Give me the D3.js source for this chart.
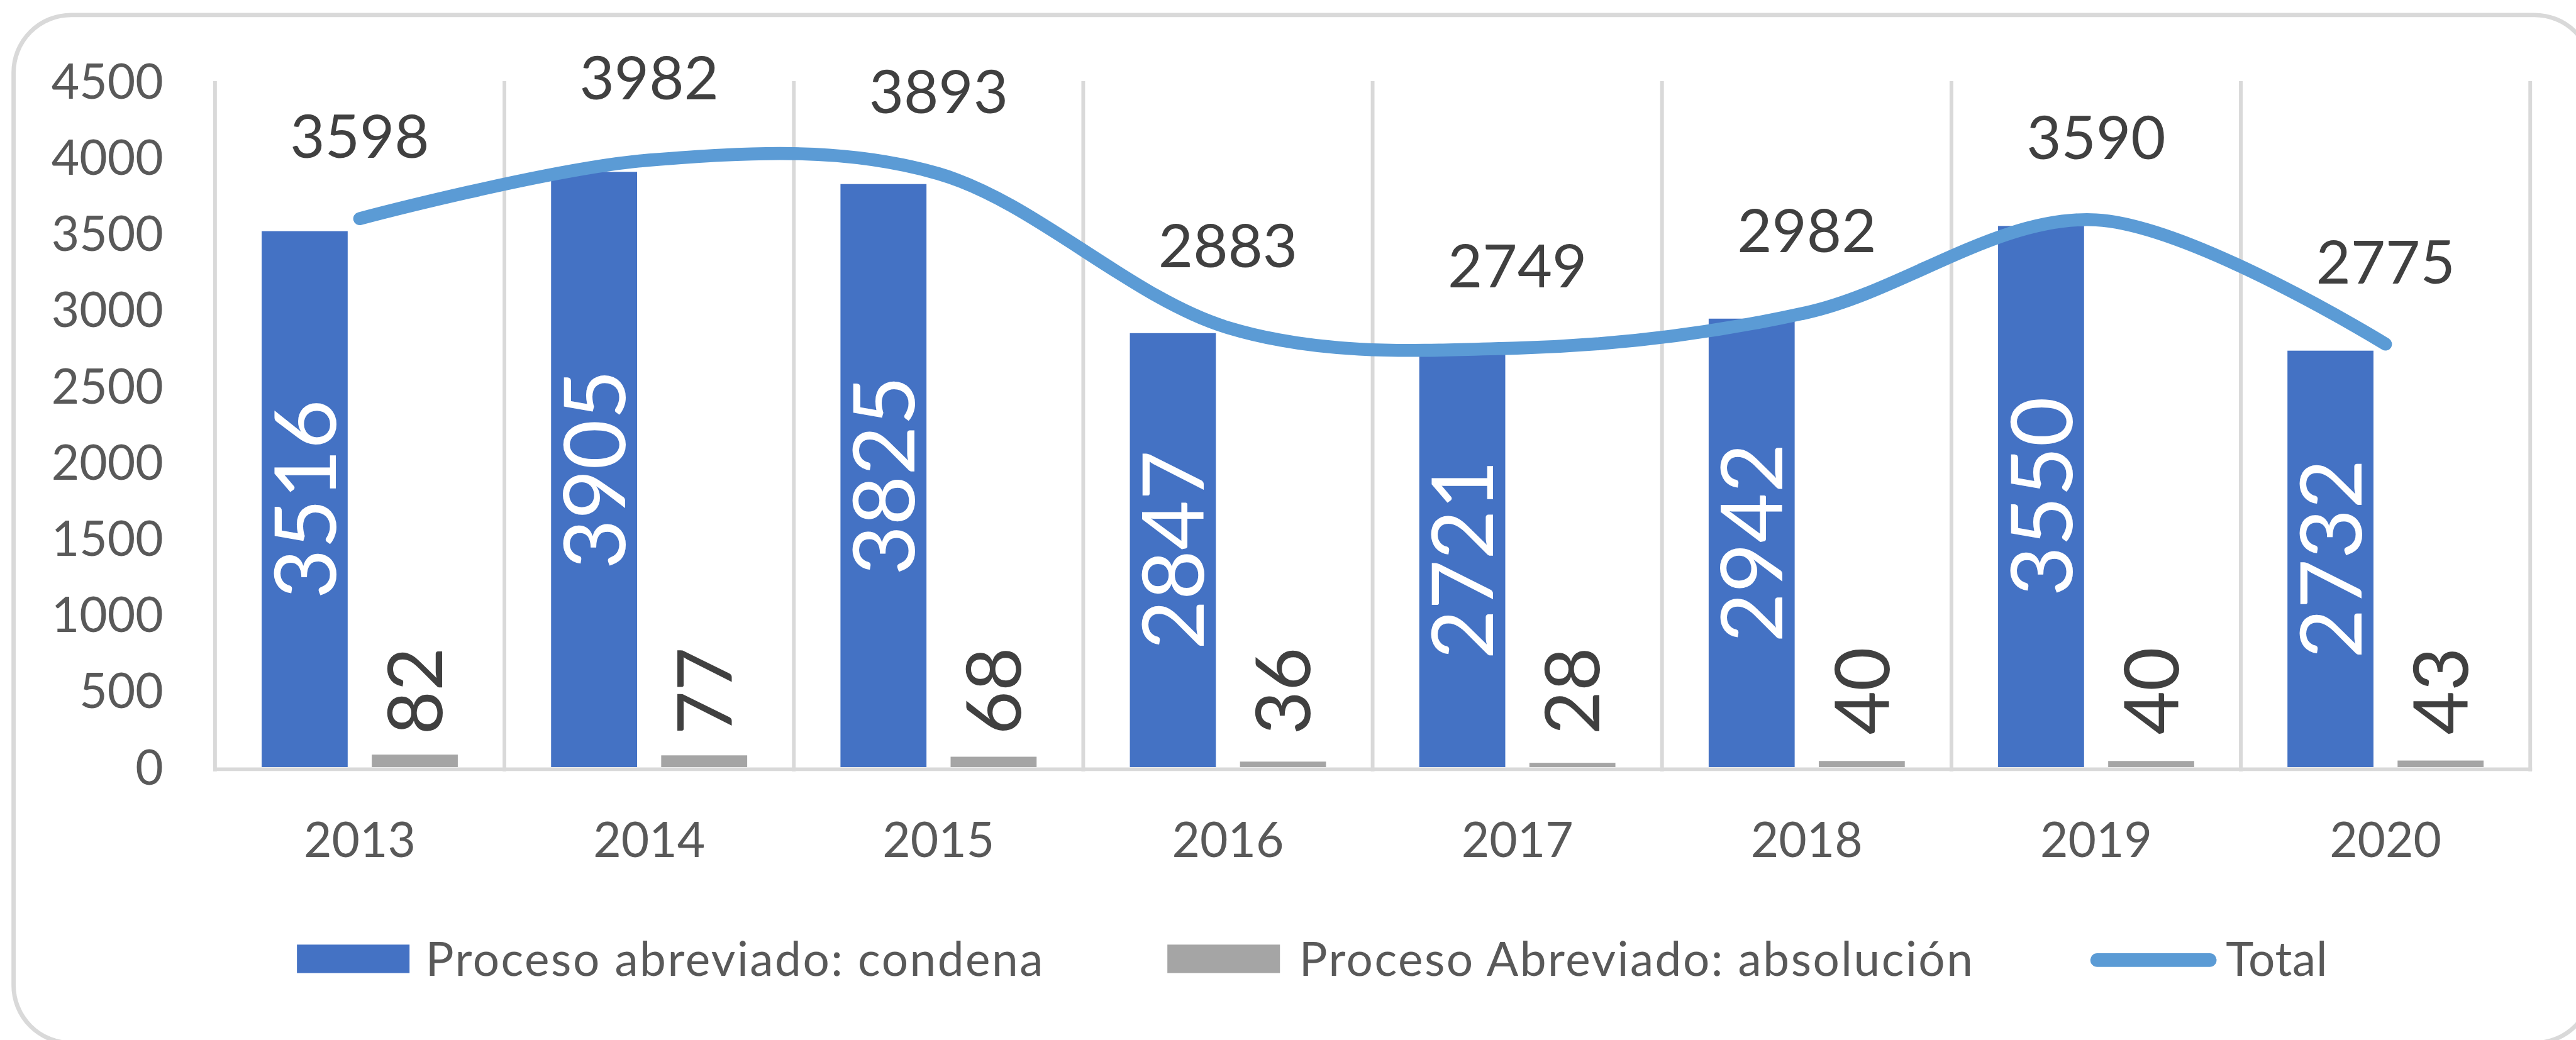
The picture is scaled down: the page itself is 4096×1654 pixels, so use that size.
<!DOCTYPE html>
<html>
<head>
<meta charset="utf-8">
<style>
  html, body { margin: 0; padding: 0; background: #fff; overflow: hidden; }
  svg { display: block; }
  text { font-family: Lato, "Open Sans", sans-serif; }
</style>
</head>
<body>
<svg id="chart"></svg>
<script src="https://d3js.org/d3.v7.min.js"></script>
<script>

// data
var years = ["2013", "2014", "2015", "2016", "2017", "2018", "2019", "2020"];
var condena = [3516, 3905, 3825, 2847, 2721, 2942, 3550, 2732];
var absolucion = [82, 77, 68, 36, 28, 40, 40, 43];
var total = [3598, 3982, 3893, 2883, 2749, 2982, 3590, 2775];
var yTicks = [0, 500, 1000, 1500, 2000, 2500, 3000, 3500, 4000, 4500];
var seriesNames = ["Proceso abreviado: condena", "Proceso Abreviado: absolución", "Total"];
var seriesKeys = ["condena", "absolucion"];
var colors = ["#4472c4", "#a5a5a5", "#5b9bd5"];

// drawn in reference pixels, scaled down to the window by the viewBox
var W = 4164, H = 1681;

var svg = d3.select("#chart")
    .attr("width", 4096)
    .attr("height", 1654)
    .attr("viewBox", "0 0 " + W + " " + H);

var plot = {left: 347.6, right: 4090, top: 131, bottom: 1240};

// outer frame (right and bottom edges fall just outside the picture)
svg.append("rect")
    .attr("x", 22).attr("y", 24)
    .attr("width", 4168).attr("height", 1662)
    .attr("rx", 93).attr("ry", 93)
    .attr("fill", "#fff")
    .attr("stroke", "#d9d9d9")
    .attr("stroke-width", 7);

var x0 = d3.scaleBand()
    .domain(years)
    .range([plot.left, plot.right])
    .padding(0);

var x1 = d3.scaleBand()
    .domain(seriesKeys)
    .range([0, x0.bandwidth()])
    .paddingInner(0.219)
    .paddingOuter(0.4235);

var y = d3.scaleLinear()
    .domain([0, 4500])
    .range([plot.bottom, plot.top]);

var mid = function(i) { return x0(years[i]) + x0.bandwidth() / 2; };

// vertical gridlines at category edges
var edges = years.map(function(d) { return x0(d); }).concat([plot.right]);
svg.append("g")
    .selectAll("line")
    .data(edges)
    .join("line")
    .attr("x1", function(d) { return d; })
    .attr("x2", function(d) { return d; })
    .attr("y1", plot.top)
    .attr("y2", plot.bottom + 7)
    .attr("stroke", "#d9d9d9")
    .attr("stroke-width", 6);

// category axis line
svg.append("line")
    .attr("x1", plot.left - 3).attr("x2", plot.right + 3)
    .attr("y1", plot.bottom + 3.5).attr("y2", plot.bottom + 3.5)
    .attr("stroke", "#d9d9d9")
    .attr("stroke-width", 6);

// y tick labels
svg.append("g")
    .selectAll("text")
    .data(yTicks)
    .join("text")
    .attr("x", 264)
    .attr("y", function(d) { return y(d); })
    .attr("dy", "0.36em")
    .attr("text-anchor", "end")
    .attr("font-size", 78)
    .attr("fill", "#595959")
    .text(function(d) { return d; });

// x tick labels
svg.append("g")
    .selectAll("text")
    .data(years)
    .join("text")
    .attr("x", function(d, i) { return mid(i); })
    .attr("y", 1357)
    .attr("dy", "0.36em")
    .attr("text-anchor", "middle")
    .attr("font-size", 78)
    .attr("fill", "#595959")
    .text(function(d) { return d; });

// bars
var rows = years.map(function(yr, i) {
  return {year: yr, condena: condena[i], absolucion: absolucion[i]};
});

seriesKeys.forEach(function(key, k) {
  svg.append("g")
      .attr("fill", colors[k])
      .selectAll("rect")
      .data(rows)
      .join("rect")
      .attr("x", function(d) { return x0(d.year) + x1(key); })
      .attr("width", x1.bandwidth())
      .attr("y", function(d) { return y(d[key]); })
      .attr("height", function(d) { return y(0) - y(d[key]); });
});

// total line, smoothed like Excel (uniform Catmull-Rom)
var line = d3.line()
    .x(function(d, i) { return mid(i); })
    .y(function(d) { return y(d); })
    .curve(d3.curveCardinal.tension(0));

svg.append("path")
    .datum(total)
    .attr("d", line)
    .attr("fill", "none")
    .attr("stroke", colors[2])
    .attr("stroke-width", 21)
    .attr("stroke-linecap", "round")
    .attr("stroke-linejoin", "round");

// labels inside blue bars
svg.append("g")
    .selectAll("text")
    .data(rows)
    .join("text")
    .attr("transform", function(d) {
      var cx = x0(d.year) + x1("condena") + x1.bandwidth() / 2;
      var cy = (y(d.condena) + y(0)) / 2;
      return "translate(" + cx + "," + cy + ") rotate(-90)";
    })
    .attr("dy", "0.36em")
    .attr("text-anchor", "middle")
    .attr("font-size", 139)
    .attr("fill", "#fff")
    .text(function(d) { return d.condena; });

// labels above grey bars
svg.append("g")
    .selectAll("text")
    .data(rows)
    .join("text")
    .attr("transform", function(d) {
      var cx = x0(d.year) + x1("absolucion") + x1.bandwidth() / 2;
      var cy = y(0) - 123;
      return "translate(" + cx + "," + cy + ") rotate(-90)";
    })
    .attr("dy", "0.36em")
    .attr("text-anchor", "middle")
    .attr("font-size", 122)
    .attr("fill", "#404040")
    .text(function(d) { return d.absolucion; });

// total labels
svg.append("g")
    .selectAll("text")
    .data(total)
    .join("text")
    .attr("x", function(d, i) { return mid(i); })
    .attr("y", function(d) { return y(d) - 133; })
    .attr("dy", "0.36em")
    .attr("text-anchor", "middle")
    .attr("font-size", 97)
    .attr("fill", "#404040")
    .text(function(d) { return d; });

// legend
var legX = [480, 1887, 3379];
var legTextX = [688, 2100, 3598];
var legTextW = [998, 1089, 164];
var legY = 1550;
var legend = svg.append("g");

legend.selectAll("rect")
    .data([0, 1])
    .join("rect")
    .attr("x", function(i) { return legX[i]; })
    .attr("y", legY - 23)
    .attr("width", 182)
    .attr("height", 46)
    .attr("fill", function(i) { return colors[i]; });

legend.append("line")
    .attr("x1", legX[2] + 11).attr("x2", legX[2] + 193)
    .attr("y1", legY + 2).attr("y2", legY + 2)
    .attr("stroke", colors[2])
    .attr("stroke-width", 22)
    .attr("stroke-linecap", "round");

legend.selectAll("text")
    .data(seriesNames)
    .join("text")
    .attr("x", function(d, i) { return legTextX[i]; })
    .attr("y", legY)
    .attr("dy", "0.36em")
    .attr("font-size", 76)
    .attr("fill", "#595959")
    .attr("textLength", function(d, i) { return legTextW[i]; })
    .attr("lengthAdjust", "spacing")
    .text(function(d) { return d; });

</script>
</body>
</html>
